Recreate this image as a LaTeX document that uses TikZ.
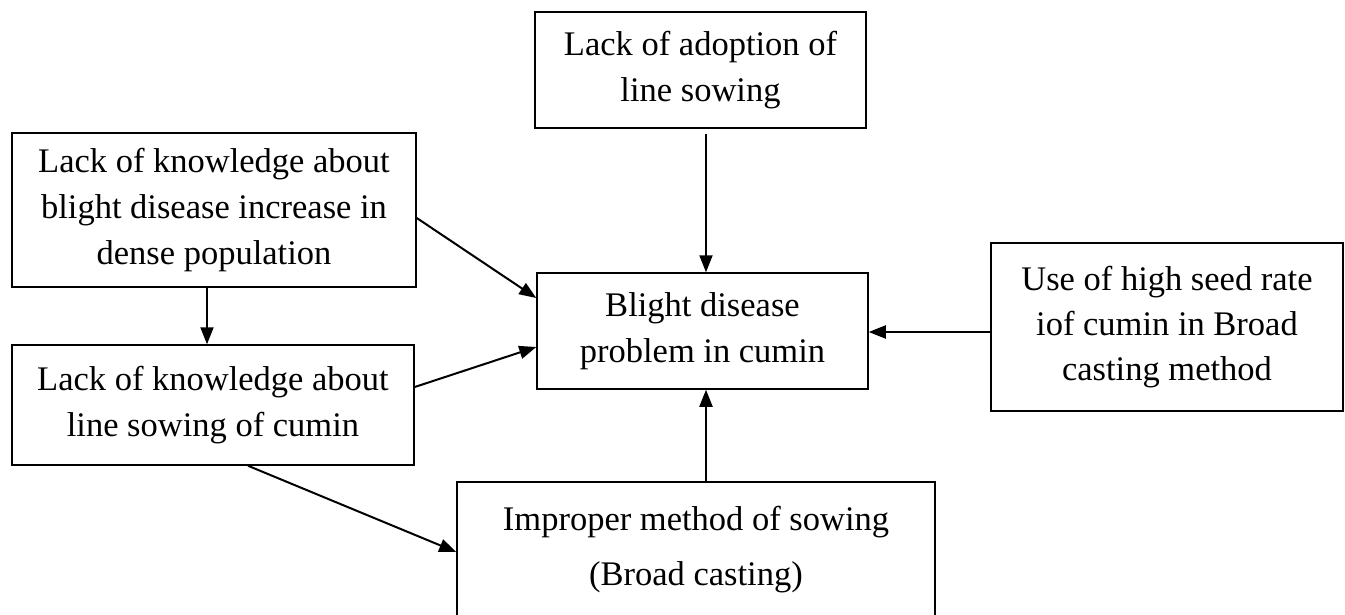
\documentclass[tikz,border=0pt]{standalone}
\usepackage{fontspec}
\setmainfont{Liberation Serif}
\usetikzlibrary{arrows.meta}
\begin{document}
\begin{tikzpicture}[x=1pt,y=-1pt,
  box/.style={draw, line width=1.5pt, rectangle, inner sep=0pt, align=center,
    font=\fontsize{34.5}{46}\selectfont},
  arr/.style={line width=2pt, -{Triangle[length=17pt,width=13pt]}}]
\useasboundingbox (0,0) rectangle (1345,614);
\node[box, minimum width=331pt, minimum height=116pt] (T) at (700.5,70) {Lack of adoption of\\line sowing};
\node[box, minimum width=404pt, minimum height=154pt] (A) at (214,210) {Lack of knowledge about\\blight disease increase in\\dense population};
\node[box, minimum width=402pt, minimum height=120pt] (B) at (213,405) {Lack of knowledge about\\line sowing of cumin};
\node[box, minimum width=331pt, minimum height=116pt] (C) at (702.5,331) {Blight disease\\problem in cumin};
\node[box, minimum width=352pt, minimum height=168pt, font=\fontsize{34.5}{45}\selectfont] (R) at (1167,327) {Use of high seed rate\\iof cumin in Broad\\casting method};
\node[box, minimum width=478pt, minimum height=136pt] (Bo) at (696,550) {Improper method of sowing\\[9pt](Broad casting)};
\coordinate (xv) at (706,0);
\coordinate (xab) at (207,0);
\coordinate (xbb) at (248,0);
\coordinate (ry) at ([yshift=-5pt]R.west);
\draw[arr] ([yshift=-5pt]T.south -| xv) -- (C.north -| xv);
\draw[arr] ([yshift=-8pt]A.east) -- ([yshift=33pt]C.west);
\draw[arr] ([yshift=18pt]B.east) -- ([yshift=-16pt]C.west);
\draw[arr] (ry) -- (C.east |- ry);
\draw[arr] (Bo.north -| xv) -- (C.south -| xv);
\draw[arr] (A.south -| xab) -- (B.north -| xab);
\draw[arr] (B.south -| xbb) -- ([yshift=-2pt]Bo.west);
\end{tikzpicture}
\end{document}
